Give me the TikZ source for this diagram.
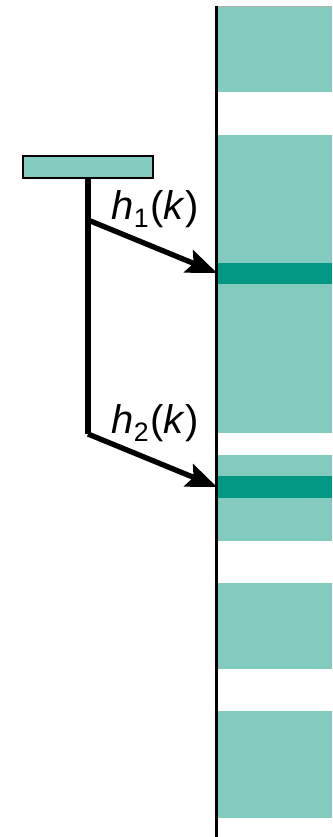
\documentclass[tikz,border=0pt]{standalone}
\usepackage{fontspec}
\setmainfont{Liberation Sans}
\usetikzlibrary{arrows.meta}
\definecolor{lightteal}{HTML}{84CBBF}
\definecolor{darkteal}{HTML}{009883}
\begin{document}
\begin{tikzpicture}[x=0.75pt,y=-0.75pt,
  band/.style={fill=lightteal,draw=none},
  darkband/.style={fill=darkteal,draw=none},
  conn/.style={line width=4pt,line cap=butt},
  arr/.style={conn,-{Stealth[length=23pt,width=18pt,inset=4pt]}},
  lbl/.style={font=\fontsize{30}{33}\selectfont},
  srcbox/.style={draw=black,line width=2pt,fill=lightteal,minimum width=97.5pt,minimum height=16.5pt,inner sep=0pt}]
\useasboundingbox (0,0) rectangle (332,837);
% bands
\fill[band] (217,7) rectangle (332,92);
\fill[band] (217,135) rectangle (332,433);
\fill[darkband] (217,263) rectangle (332,284);
\fill[band] (217,455) rectangle (332,541);
\fill[darkband] (217,476) rectangle (332,498);
\fill[band] (217,583) rectangle (332,669);
\fill[band] (217,711) rectangle (332,818);
% frame
\draw[gray!60,line width=0.6pt] (216,6) -- (332,6);
\draw[line width=2.6pt] (216.5,6) -- (216.5,837);
% source
\node[srcbox] (src) at (88,167) {};
\coordinate (b1) at (88,220);
\coordinate (b2) at (88,434);
\coordinate (t1) at (217,273);
\coordinate (t2) at (217,487);
\draw[conn] (src.south) -- (b2);
\draw[arr] (b1) -- (t1);
\draw[arr] (b2) -- (t2);
\node[lbl] (l1) at (155,209) {\textit{h}\raisebox{-0.22em}{\fontsize{20}{21}\selectfont 1}\kern1pt(\textit{k})};
\node[lbl] (l2) at (155,423) {\textit{h}\raisebox{-0.22em}{\fontsize{20}{21}\selectfont 2}\kern1pt(\textit{k})};
\end{tikzpicture}
\end{document}
